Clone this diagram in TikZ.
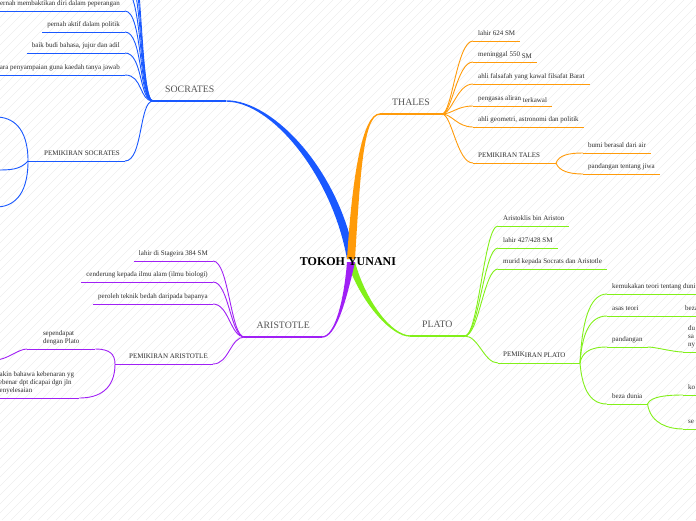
\documentclass[tikz,border=0pt]{standalone}
\usepackage{fontspec}
\setmainfont{Liberation Serif}
\usetikzlibrary{calc}
\definecolor{colSoc}{RGB}{25,88,255}
\definecolor{colTha}{RGB}{255,155,10}
\definecolor{colPla}{RGB}{130,240,25}
\definecolor{colAri}{RGB}{160,32,245}
\definecolor{colLeaf}{RGB}{45,45,45}
\definecolor{colTopic}{RGB}{85,85,85}
\definecolor{colHatch}{RGB}{238,238,238}
\tikzset{
  title/.style={font=\bfseries\fontsize{12}{14}\selectfont, inner sep=0pt},
  topic/.style={font=\fontsize{9.8}{11}\selectfont, text=colTopic,
    inner xsep=12pt, inner ysep=6pt, text depth=2pt},
  leaf/.style={font=\fontsize{7}{8}\selectfont, text=colLeaf,
    inner xsep=5pt, inner ysep=3.2pt, text depth=1.8pt, align=left},
  link/.style={line width=0.9pt},
  hatch/.style={draw=colHatch, line width=0.5pt}
}

\begin{document}
\begin{tikzpicture}[x=1pt, y=-1pt]
  \useasboundingbox (0,0) rectangle (696,520);
  \clip (0,0) rectangle (696,520);

  % faint stripes in the background
  \foreach \i in {-520,-511,...,700}
    \draw[hatch] (\i,520) -- +(520,-520);

  \coordinate (hub) at (351,259);

  % main topics
  \node[topic, anchor=south west] (socrates) at (153,101) {SOCRATES};
  \node[topic, anchor=south west] (thales) at (380,114) {THALES};
  \node[topic, anchor=south east] (aristotle) at (322,337) {ARISTOTLE};
  \node[topic, anchor=south west] (plato) at (410,336) {PLATO};

  % tapered branches from the centre
  \fill[colSoc] ($(hub)+(-4,0)$) .. controls +(-15,-84) and +(45,0) .. ($(socrates.south east)+(0,0.7)$)
    -- ($(socrates.south east)+(0,-0.7)$) .. controls +(47,0) and +(-15,-88) .. ($(hub)+(4,0)$) -- cycle;
  \fill[colTha] ($(hub)+(-4,0)$) .. controls +(5,-80) and +(-18,0) .. ($(thales.south west)+(0,-0.7)$)
    -- ($(thales.south west)+(0,0.7)$) .. controls +(-17,0) and +(5,-80) .. ($(hub)+(4,0)$) -- cycle;
  \fill[colPla] ($(hub)+(-4,3)$) .. controls +(15,43) and +(-18,0) .. ($(plato.south west)+(0,0.7)$)
    -- ($(plato.south west)+(0,-0.7)$) .. controls +(-18,0) and +(11,40) .. ($(hub)+(4,3)$) -- cycle;
  \fill[colAri] ($(hub)+(-4,3)$) .. controls +(-3,38) and +(13,0) .. ($(aristotle.south east)+(0,-0.7)$)
    -- ($(aristotle.south east)+(0,0.7)$) .. controls +(14,0) and +(-9,40) .. ($(hub)+(4,3)$) -- cycle;

  \foreach \n/\c in {socrates/colSoc, thales/colTha, aristotle/colAri, plato/colPla}
    \draw[\c, line width=1.4pt] (\n.south west) -- (\n.south east);

  % SOCRATES
  \node[leaf, anchor=south east] (s1) at (125,11) {pernah membaktikan diri dalam peperangan};
  \node[leaf, anchor=south east] (s2) at (125,32) {pernah aktif dalam politik};
  \node[leaf, anchor=south east] (s3) at (125,53) {baik budi bahasa, jujur dan adil};
  \node[leaf, anchor=south east] (s4) at (125,75) {cara penyampaian guna kaedah tanya jawab};
  \node[leaf, anchor=south east] (s5) at (125,161) {PEMIKIRAN SOCRATES};
  \coordinate (sx1) at (125,-10);
  \coordinate (sx2) at (125,-31);
  \coordinate (sx3) at (125,-52);
  \coordinate (sx4) at (125,-73);
  \foreach \n in {s1,s2,s3,s4,s5} {
    \draw[link, colSoc] (socrates.south west) .. controls +(-14,0) and +(18,0) .. (\n.south east);
    \draw[link, colSoc] (\n.south west) -- (\n.south east);
  }
  \foreach \n in {sx1,sx2,sx3,sx4}
    \draw[link, colSoc] (socrates.south west) .. controls +(-14,0) and +(18,0) .. (\n);
  \coordinate (sp) at (28,161);
  \coordinate (sc1) at (-4,117);
  \coordinate (sc2) at (-4,170);
  \coordinate (sc3) at (-4,207);
  \draw[link, colSoc] (s5.south west) -- (sp);
  \draw[link, colSoc] (sp) .. controls +(0,-34) and +(16,0) .. (sc1);
  \draw[link, colSoc] (sp) .. controls +(-8,9) and +(14,0) .. (sc2);
  \draw[link, colSoc] (sp) .. controls +(0,36) and +(16,0) .. (sc3);

  % THALES
  \node[leaf, anchor=south west] (t1) at (473,41) {lahir 624 SM};
  \node[leaf, anchor=south west] (t2) at (473,62) {meninggal 550 \raisebox{-1.5pt}{SM}};
  \node[leaf, anchor=south west] (t3) at (473,84) {ahli falsafah yang kawal filsafat Barat};
  \node[leaf, anchor=south west] (t4) at (473,106) {pengasas aliran \raisebox{-1.5pt}{terkawal}};
  \node[leaf, anchor=south west] (t5) at (473,127) {ahli geometri, astronomi dan politik};
  \node[leaf, anchor=south west] (t6) at (473,163) {PEMIKIRAN TALES};
  \foreach \n in {t1,t2,t3,t4,t5,t6} {
    \draw[link, colTha] (thales.south east) .. controls +(10,0) and +(-16,0) .. (\n.south west);
    \draw[link, colTha] (\n.south west) -- (\n.south east);
  }
  \coordinate (tp) at (556,163);
  \draw[link, colTha] (t6.south east) -- (tp);
  \node[leaf, anchor=south west] (t7) at (583,153) {bumi berasal dari air};
  \node[leaf, anchor=south west] (t8) at (583,174) {pandangan tentang jiwa};
  \draw[link, colTha] (tp) .. controls +(3,-8) and +(-14,0) .. (t7.south west);
  \draw[link, colTha] (tp) .. controls +(3,8) and +(-14,0) .. (t8.south west);
  \foreach \n in {t7,t8}
    \draw[link, colTha] (\n.south west) -- (\n.south east);

  % PLATO
  \node[leaf, anchor=south west] (p1) at (498,226) {Aristoklis bin Ariston};
  \node[leaf, anchor=south west] (p2) at (498,248) {lahir 427/428 SM};
  \node[leaf, anchor=south west] (p3) at (498,269) {murid kepada Socrats dan Aristotle};
  \node[leaf, anchor=south west] (p4) at (498,363) {\raisebox{1.5pt}{PEMIK}IRAN PLATO};
  \foreach \n in {p1,p2,p3,p4} {
    \draw[link, colPla] (plato.south east) .. controls +(14,0) and +(-14,0) .. (\n.south west);
    \draw[link, colPla] (\n.south west) -- (\n.south east);
  }
  \coordinate (pp) at (580,363);
  \draw[link, colPla] (p4.south east) -- (pp);
  \node[leaf, anchor=south west] (p5) at (607,294) {kemukakan teori tentang duni};
  \node[leaf, anchor=south west] (p6) at (607,316) {asas teori};
  \node[leaf, anchor=south west] (p7) at (607,347) {pandangan};
  \node[leaf, anchor=south west] (p8) at (607,404) {beza dunia};
  \foreach \n/\d in {p5/-40,p6/-28,p7/-10,p8/24} {
    \draw[link, colPla] (pp) .. controls +(2,\d) and +(-18,0) .. (\n.south west);
    \draw[link, colPla] (\n.south west) -- (\n.south east);
  }
  \node[leaf, anchor=south west] (p6a) at (680,316) {beza};
  \node[leaf, anchor=south west] (p7a) at (683,352) {du\\sa\\ny};
  \node[leaf, anchor=south west] (p8a) at (683,395) {ko};
  \node[leaf, anchor=south west] (p8b) at (683,429) {se};
  \draw[link, colPla] (p6.south east) -- (p6a.south west);
  \draw[link, colPla] (p7.south east) .. controls +(8,0) and +(-10,0) .. (p7a.south west);
  \draw[link, colPla] (p8.south east) .. controls +(3,-8) and +(-14,0) .. (p8a.south west);
  \draw[link, colPla] (p8.south east) .. controls +(3,20) and +(-14,0) .. (p8b.south west);
  \foreach \n in {p6a,p7a,p8a,p8b}
    \draw[link, colPla] (\n.south west) -- (\n.south east);

  % ARISTOTLE
  \node[leaf, anchor=south east] (a1) at (213,261) {lahir di Stageira 384 SM};
  \node[leaf, anchor=south east] (a2) at (213,282) {cenderung kepada ilmu alam (ilmu biologi)};
  \node[leaf, anchor=south east] (a3) at (213,304) {peroleh teknik bedah daripada bapanya};
  \node[leaf, anchor=south east] (a4) at (213,364) {PEMIKIRAN ARISTOTLE};
  \foreach \n in {a1,a2,a3,a4} {
    \draw[link, colAri] (aristotle.south west) .. controls +(-14,0) and +(16,0) .. (\n.south east);
    \draw[link, colAri] (\n.south west) -- (\n.south east);
  }
  \coordinate (ap) at (115,364);
  \draw[link, colAri] (a4.south west) -- (ap);
  \node[leaf, anchor=south west, minimum width=68pt] (a5) at (27,349) {sependapat\\dengan Plato};
  \node[leaf, anchor=south west] (a6) at (-9,398) {yakin bahawa kebenaran yg\\sebenar dpt dicapai dgn jln\\penyelesaian};
  \draw[link, colAri] (ap) .. controls +(0,-10) and +(14,0) .. (a5.south east);
  \draw[link, colAri] (ap) .. controls +(0,25) and +(20,0) .. (a6.south east);
  \foreach \n in {a5,a6}
    \draw[link, colAri] (\n.south west) -- (\n.south east);
  \coordinate (ax) at (-5,360);
  \draw[link, colAri] (a5.south west) .. controls +(-9,0) and +(12,0) .. (ax);

  % centre title on top
  \node[title] (yunani) at (348,262) {TOKOH YUNANI};
\end{tikzpicture}
\end{document}
